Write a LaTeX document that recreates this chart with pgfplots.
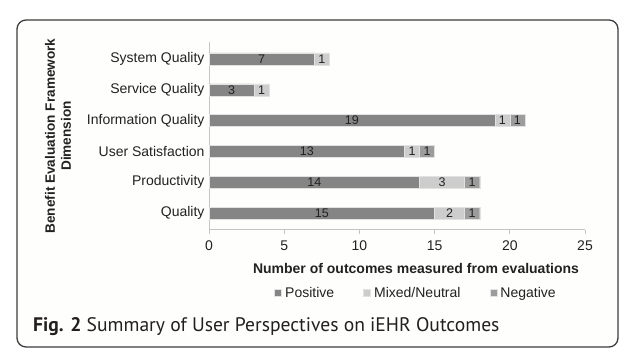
\documentclass[border=0pt]{standalone}
\usepackage{fontspec}
\setmainfont{Liberation Sans}
\newfontfamily\capfont{PT Sans}
\usepackage{pgfplots}
\pgfplotsset{compat=1.18}
\definecolor{pos}{HTML}{858585}
\definecolor{mix}{HTML}{CDCDCD}
\definecolor{neg}{HTML}{9C9C9C}
\definecolor{axgray}{HTML}{C4C4C4}
\definecolor{txt}{HTML}{222222}
\definecolor{frame}{HTML}{3C3C3C}
\definecolor{bg}{HTML}{FEFEFC}
\definecolor{barline}{HTML}{E2E2E2}

\pgfplotsset{myax/.style={
  at={(209pt,128pt)}, anchor=south west,
  width=376pt, height=188pt, scale only axis,
  xmin=0, xmax=25, ymin=-0.55, ymax=5.55,
}}

\begin{document}
\begin{tikzpicture}[x=1pt,y=1pt]
\path[use as bounding box] (0,0) rectangle (636,358);
\fill[white] (0,0) rectangle (636,358);
\draw[line width=1.3pt, frame, rounded corners=9pt, fill=bg] (17,11) rectangle (618,338);

\begin{axis}[myax,
  xbar stacked, bar width=12pt,
  axis x line*=bottom, axis y line*=left,
  axis line style={axgray, line width=1pt},
  xtick={0,5,...,25},
  tick align=outside,
  x tick style={axgray, line width=0.8pt},
  y tick style={draw=none},
  major tick length=4pt,
  ytick={0,1,2,3,4,5},
  yticklabels={Quality,Productivity,User Satisfaction,Information Quality,Service Quality,System Quality},
  ticklabel style={font=\fontsize{14}{16}\selectfont, text=txt},
  xticklabel style={yshift=-3pt},
  yticklabel style={xshift=3pt},
  /pgf/number format/assume math mode=true,
  xlabel={Number of outcomes measured from evaluations},
  xlabel style={at={(axis description cs:0.5,0)}, anchor=center, yshift=-38pt, xshift=19pt,
     font=\bfseries\fontsize{14}{16}\selectfont, text=txt},
  ylabel={Benefit Evaluation Framework\\Dimension},
  ylabel style={at={(axis description cs:0,0.5)}, anchor=center, yshift=151pt, align=center,
     font=\bfseries\fontsize{13.6}{16}\selectfont, text=txt},
  legend style={at={(axis description cs:0.5,0)}, anchor=center, xshift=19pt, yshift=-63pt,
     draw=none, fill=none, font=\fontsize{14}{16}\selectfont, text=txt,
     /tikz/every even column/.append style={column sep=27pt},
     /tikz/every odd column/.append style={column sep=1.5pt}},
  legend columns=3,
  legend image code/.code={\fill[#1] (0pt,-3.5pt) rectangle (7pt,3.5pt);},
]
\addplot[fill=pos, draw=barline, line width=0.4pt] coordinates {(15,0) (14,1) (13,2) (19,3) (3,4) (7,5)};
\addplot[fill=mix, draw=barline, line width=0.4pt] coordinates {(2,0) (3,1) (1,2) (1,3) (1,4) (1,5)};
\addplot[fill=neg, draw=barline, line width=0.4pt] coordinates {(1,0) (1,1) (1,2) (1,3) (0,4) (0,5)};
\legend{Positive, Mixed/Neutral, Negative}
\end{axis}

\begin{axis}[myax, hide axis]
\addplot[draw=none, mark=none, nodes near coords, point meta=explicit symbolic,
  nodes near coords align=center,
  every node near coord/.append style={font=\fontsize{12.5}{15}\selectfont, text=txt, anchor=center}]
 coordinates {
 (7.5,0)[15] (16,0)[2] (17.5,0)[1]
 (7,1)[14] (15.5,1)[3] (17.5,1)[1]
 (6.5,2)[13] (13.5,2)[1] (14.5,2)[1]
 (9.5,3)[19] (19.5,3)[1] (20.5,3)[1]
 (1.5,4)[3] (3.5,4)[1]
 (3.5,5)[7] (7.5,5)[1]
 };
\end{axis}

\node[anchor=base west, inner sep=0pt, text={rgb,255:red,35;green,31;blue,32}, font=\capfont\fontsize{19.6}{24}\selectfont]
  at (33,26) {\textbf{Fig. 2} Summary of User Perspectives on iEHR Outcomes};
\end{tikzpicture}
\end{document}
